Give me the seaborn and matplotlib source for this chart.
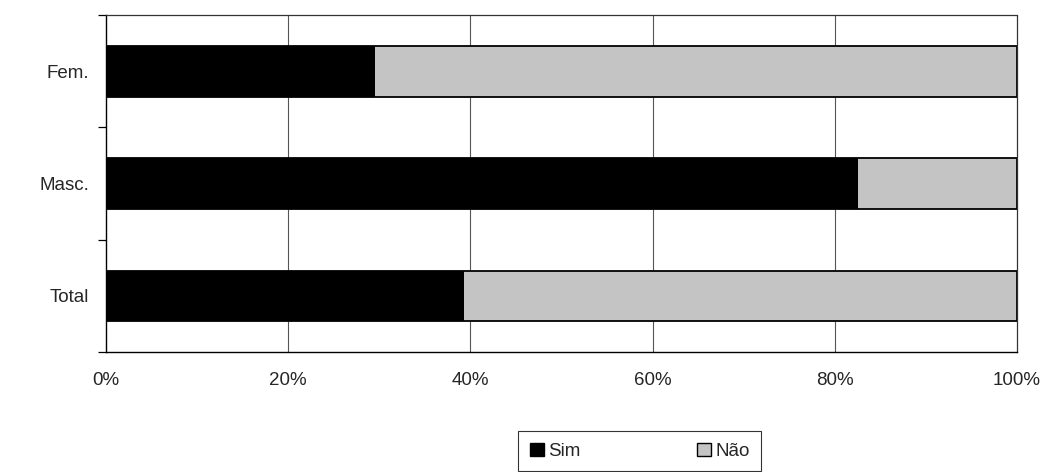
import matplotlib
matplotlib.use("Agg")
import matplotlib.pyplot as plt
import pandas as pd
import seaborn as sns
from matplotlib.patches import Patch
from matplotlib.ticker import FixedLocator, PercentFormatter

categories = ["Fem.", "Masc.", "Total"]
sim = [29.5, 82.5, 39.3]
nao = [70.5, 17.5, 60.7]
x_ticks = [0, 20, 40, 60, 80, 100]

SIM_COLOR = "#000000"
NAO_COLOR = "#c4c4c4"

sns.set_style("white")
plt.rcParams["font.family"] = ["Liberation Sans", "DejaVu Sans"]

df = pd.DataFrame({"grupo": categories, "sim": sim, "nao": nao})
df["total"] = df["sim"] + df["nao"]

fig = plt.figure(figsize=(10.49, 4.72), dpi=100)
ax = fig.add_axes([0.101, 0.254, 0.8685, 0.714])

# stacked: full bar in Não colour, then Sim drawn over it
sns.barplot(data=df, x="total", y="grupo", orient="h", color=NAO_COLOR,
            edgecolor="black", linewidth=1.3, width=0.45, ax=ax)
sns.barplot(data=df, x="sim", y="grupo", orient="h", color=SIM_COLOR,
            edgecolor=SIM_COLOR, linewidth=0, width=0.45, ax=ax)

ax.set_xlim(0, 100)
ax.set_ylim(2.5, -0.5)
ax.xaxis.set_major_locator(FixedLocator(x_ticks))
ax.xaxis.set_major_formatter(PercentFormatter(decimals=0))
ax.set_xlabel("")
ax.set_ylabel("")

for x in x_ticks[1:-1]:
    ax.axvline(x, color="#555555", linewidth=0.8, zorder=0)

ax.tick_params(axis="x", length=0, pad=14, labelsize=13.5)
ax.tick_params(axis="y", length=0, pad=12, labelsize=13.5)
# small ticks at the category boundaries
ax.set_yticks([-0.5, 0.5, 1.5, 2.5], minor=True)
ax.tick_params(axis="y", which="minor", left=True, length=6,
               direction="out", width=0.9, color="black")

for side in ["left", "bottom"]:
    ax.spines[side].set_color("black")
    ax.spines[side].set_linewidth(1.0)
for side in ["top", "right"]:
    ax.spines[side].set_color("#333333")
    ax.spines[side].set_linestyle((0, (1.5, 1)))
    ax.spines[side].set_linewidth(0.9)

handles = [Patch(facecolor=SIM_COLOR, edgecolor=SIM_COLOR, label="Sim"),
           Patch(facecolor=NAO_COLOR, edgecolor="black", label="Não")]
leg = fig.legend(handles=handles, ncol=2, loc="upper center",
                 bbox_to_anchor=(0.61, 0.086), frameon=True, fancybox=False,
                 fontsize=13.5, handlelength=0.75, handleheight=0.75,
                 handletextpad=0.25, columnspacing=6.2, borderpad=0.6,
                 borderaxespad=0)
leg.get_frame().set_edgecolor("black")
leg.get_frame().set_linewidth(0.8)

fig.savefig("out.png", dpi=100)
